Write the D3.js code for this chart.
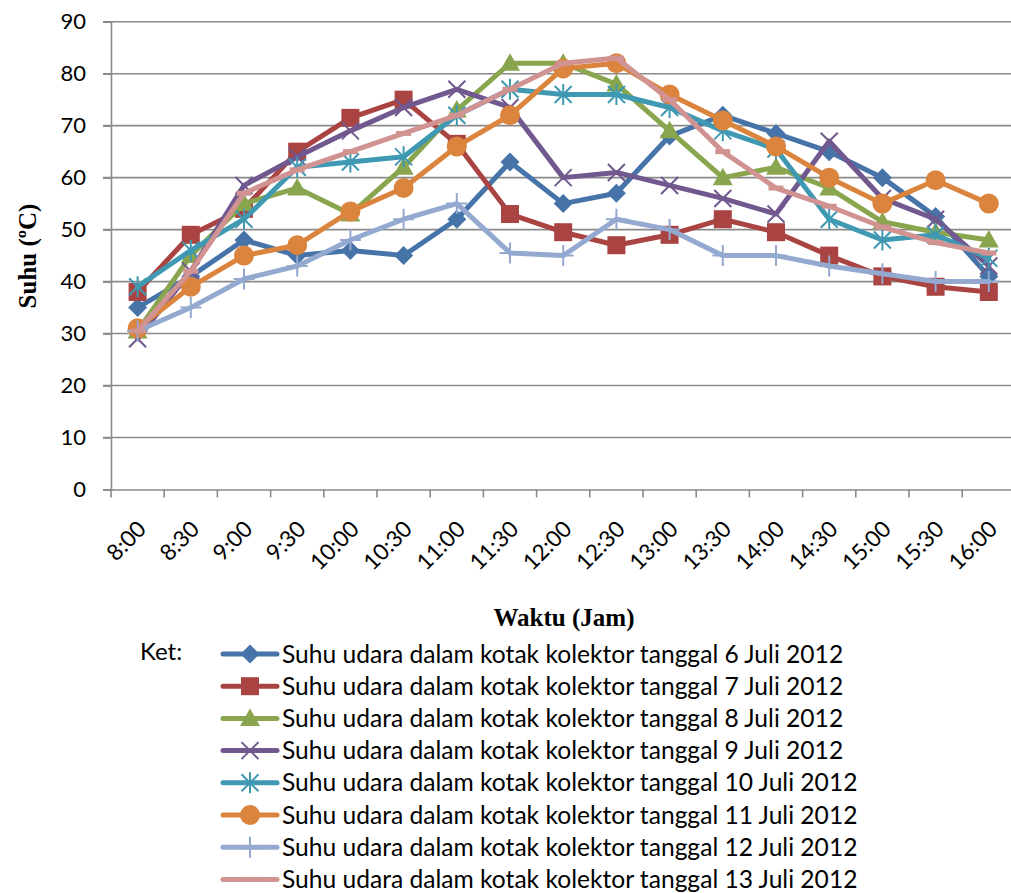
<!DOCTYPE html>
<html>
<head>
<meta charset="utf-8">
<script src="https://cdn.jsdelivr.net/npm/d3@7"></script>
<style>
  html, body { margin: 0; padding: 0; background: #fff; }
  svg { display: block; }
</style>
</head>
<body>
<svg id="chart" width="1011" height="893"></svg>
<script>
// Time of day (30-minute steps)
const categories = ["8:00","8:30","9:00","9:30","10:00","10:30","11:00","11:30","12:00","12:30","13:00","13:30","14:00","14:30","15:00","15:30","16:00"];

// Air temperature inside the collector box (°C), one array per day
const juli6  = [35, 41, 48, 45, 46, 45, 52, 63, 55, 57, 68, 72, 68.5, 65, 60, 52.5, 41];
const juli7  = [38, 49, 54, 65, 71.5, 75, 66.5, 53, 49.5, 47, 49, 52, 49.5, 45, 41, 39, 38];
const juli8  = [30.5, 45, 55, 58, 53, 62, 73, 82, 82, 78, 69, 60, 62, 58, 51.5, 49.5, 48];
const juli9  = [29, 42, 58.5, 64, 69, 73.5, 77, 73.5, 60, 61, 58.5, 56, 53, 67, 56, 52, 43];
const juli10 = [39, 46, 52, 62, 63, 64, 72, 77, 76, 76, 73.5, 69, 65.5, 52, 48, 49, 44.5];
const juli11 = [31, 39, 45, 47, 53.5, 58, 66, 72, 81, 82, 76, 71, 66, 60, 55, 59.5, 55];
const juli12 = [30.5, 35, 40.5, 43, 48, 52, 55, 45.5, 45, 52, 50, 45, 45, 43, 41.5, 40, 40];
const juli13 = [30.5, 42, 57, 61.5, 65, 68.5, 72, 77, 82, 83, 75, 65, 58, 54.5, 50.5, 47.5, 45.5];

const seriesNames = [
  "Suhu udara dalam kotak kolektor tanggal 6 Juli 2012",
  "Suhu udara dalam kotak kolektor tanggal 7 Juli 2012",
  "Suhu udara dalam kotak kolektor tanggal 8 Juli 2012",
  "Suhu udara dalam kotak kolektor tanggal 9 Juli 2012",
  "Suhu udara dalam kotak kolektor tanggal 10 Juli 2012",
  "Suhu udara dalam kotak kolektor tanggal 11 Juli 2012",
  "Suhu udara dalam kotak kolektor tanggal 12 Juli 2012",
  "Suhu udara dalam kotak kolektor tanggal 13 Juli 2012"
];
const seriesValues = [juli6, juli7, juli8, juli9, juli10, juli11, juli12, juli13];
const seriesColors = ["#4673a8", "#a94442", "#89a54e", "#71588f", "#3f99b2", "#db843d", "#93a9cf", "#d19392"];
const seriesMarkers = ["diamond", "square", "triangle", "cross", "star", "circle", "plus", "dash"];

const yTicks = [0, 10, 20, 30, 40, 50, 60, 70, 80, 90];

const svg = d3.select("#chart");
const font = "Lato, 'Open Sans', sans-serif";
const gridColor = "#8a8a8a";

const plot = { left: 111, right: 1015.4, top: 21.7, bottom: 489.5 };

const x = d3.scaleBand().domain(categories).range([plot.left, plot.right]).paddingInner(0).paddingOuter(0);
const y = d3.scaleLinear().domain([0, 90]).range([plot.bottom, plot.top]);
const cx = c => x(c) + x.bandwidth() / 2;

// gridlines
svg.append("g").selectAll("line").data(yTicks.filter(t => t > 0)).join("line")
  .attr("x1", plot.left - 8).attr("x2", plot.right)
  .attr("y1", d => y(d)).attr("y2", d => y(d))
  .attr("stroke", gridColor).attr("stroke-width", 1.6);

// y axis
const yAxis = d3.axisLeft(y).tickValues(yTicks).tickSize(8).tickPadding(17).tickFormat(d3.format("d"));
const gy = svg.append("g").attr("transform", `translate(${plot.left},0)`).call(yAxis);
gy.select(".domain").attr("stroke", gridColor).attr("stroke-width", 1.6);
gy.selectAll(".tick line").attr("stroke", gridColor).attr("stroke-width", 1.6);
gy.selectAll(".tick text").attr("font-family", font).attr("font-size", 22).attr("fill", "#000");

// x axis (ticks between categories)
const xAxis = d3.axisBottom(x).tickSize(0).tickSizeOuter(0).tickFormat("");
const gx = svg.append("g").attr("transform", `translate(0,${plot.bottom})`).call(xAxis);
gx.select(".domain").attr("stroke", gridColor).attr("stroke-width", 1.6);
const boundaries = categories.map(c => x(c)).concat([plot.right]);
gx.selectAll("line.sep").data(boundaries).join("line").attr("class", "sep")
  .attr("x1", d => d).attr("x2", d => d).attr("y1", 0).attr("y2", 8)
  .attr("stroke", gridColor).attr("stroke-width", 1.6);
gx.selectAll("text.lbl").data(categories).join("text").attr("class", "lbl")
  .attr("transform", d => `translate(${cx(d) + 10},${41}) rotate(-45)`)
  .attr("text-anchor", "end")
  .attr("font-family", font).attr("font-size", 22.5).attr("fill", "#000")
  .text(d => d);

// axis titles
svg.append("text")
  .attr("transform", `translate(36,256) rotate(-90)`)
  .attr("text-anchor", "middle")
  .attr("font-family", "'Liberation Serif', 'Times New Roman', serif")
  .attr("font-weight", "bold").attr("font-size", 25)
  .text("Suhu (ºC)");
svg.append("text")
  .attr("x", 564).attr("y", 626)
  .attr("text-anchor", "middle")
  .attr("font-family", "'Liberation Serif', 'Times New Roman', serif")
  .attr("font-weight", "bold").attr("font-size", 25)
  .text("Waktu (Jam)");

// marker shapes
function drawMarker(g, type, color) {
  switch (type) {
    case "diamond":
      g.append("path").attr("d", "M0,-9.5L9.5,0L0,9.5L-9.5,0Z").attr("fill", color); break;
    case "square":
      g.append("rect").attr("x", -9).attr("y", -9).attr("width", 18).attr("height", 18).attr("fill", color); break;
    case "triangle":
      g.append("path").attr("d", "M0,-10L10,7.5L-10,7.5Z").attr("fill", color); break;
    case "cross":
      g.append("path").attr("d", "M-8.5,-8.5L8.5,8.5M-8.5,8.5L8.5,-8.5").attr("stroke", color).attr("stroke-width", 2).attr("fill", "none"); break;
    case "star":
      g.append("path").attr("d", "M-8.5,-8.5L8.5,8.5M-8.5,8.5L8.5,-8.5M0,-10.5L0,10.5").attr("stroke", color).attr("stroke-width", 2).attr("fill", "none"); break;
    case "circle":
      g.append("circle").attr("r", 10).attr("fill", color); break;
    case "plus":
      g.append("path").attr("d", "M0,-10.5L0,10.5M-10.5,0L10.5,0").attr("stroke", color).attr("stroke-width", 2).attr("fill", "none"); break;
    case "dash":
      g.append("path").attr("d", "M-7.5,0L7.5,0").attr("stroke", color).attr("stroke-width", 5).attr("fill", "none"); break;
  }
}

// series lines and markers
const line = d3.line().x((d, i) => cx(categories[i])).y(d => y(d));
seriesValues.forEach((vals, si) => {
  const g = svg.append("g");
  g.append("path").attr("d", line(vals)).attr("fill", "none")
    .attr("stroke", seriesColors[si]).attr("stroke-width", 5)
    .attr("stroke-linejoin", "round").attr("stroke-linecap", "round");
  vals.forEach((v, i) => {
    const m = g.append("g").attr("transform", `translate(${cx(categories[i])},${y(v)})`);
    drawMarker(m, seriesMarkers[si], seriesColors[si]);
  });
});

// legend
svg.append("text").attr("x", 140).attr("y", 660)
  .attr("font-family", font).attr("font-size", 24).attr("fill", "#000").text("Ket:");
const legend = svg.append("g");
seriesNames.forEach((name, i) => {
  const ly = 654 + i * 32.2;
  const row = legend.append("g");
  row.append("line").attr("x1", 223).attr("x2", 277).attr("y1", ly).attr("y2", ly)
    .attr("stroke", seriesColors[i]).attr("stroke-width", 5).attr("stroke-linecap", "round");
  drawMarker(row.append("g").attr("transform", `translate(250,${ly})`), seriesMarkers[i], seriesColors[i]);
  row.append("text").attr("x", 282).attr("y", ly + 8.5)
    .attr("font-family", font).attr("font-size", 24.6).attr("fill", "#000").text(name);
});
</script>
</body>
</html>
